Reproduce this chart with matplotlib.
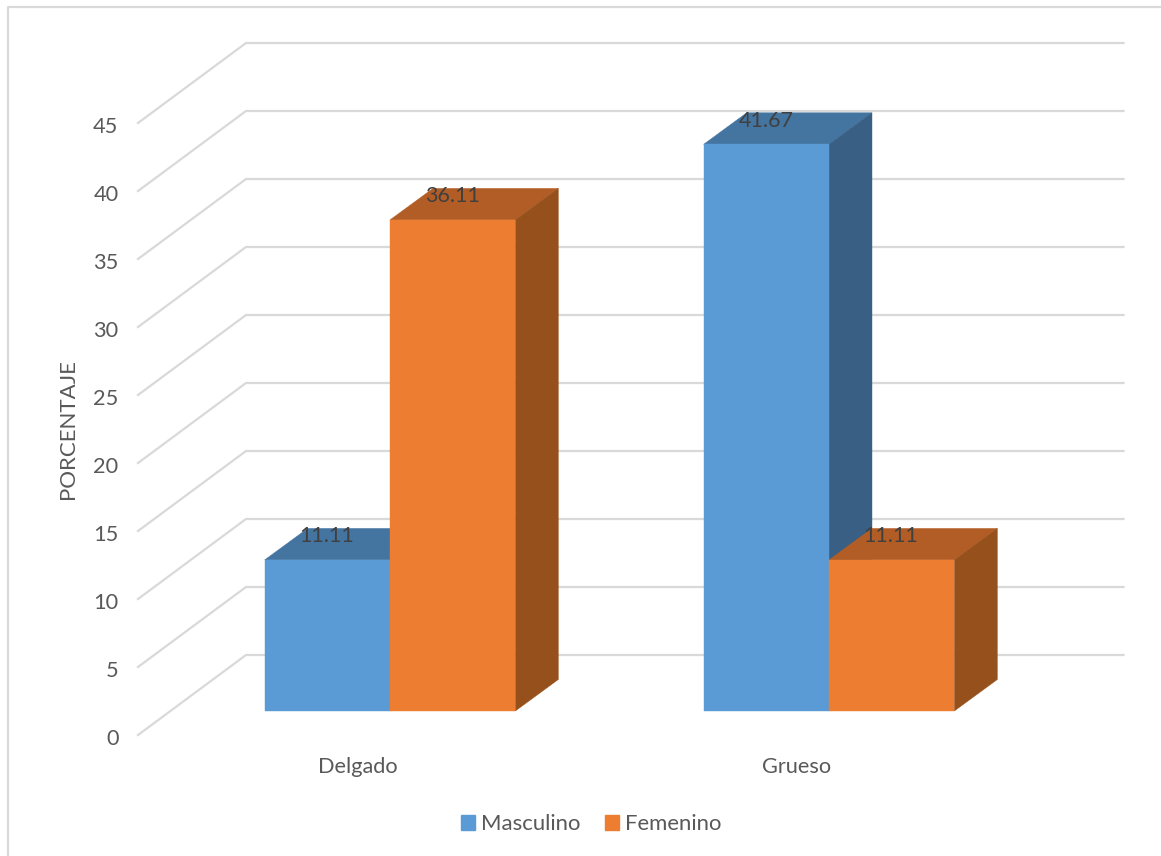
import matplotlib
matplotlib.use("Agg")
import matplotlib.pyplot as plt
from matplotlib.patches import Polygon, Patch
from matplotlib.transforms import Affine2D, IdentityTransform
from matplotlib.lines import Line2D

categories = ["Delgado", "Grueso"]
series_names = ["Masculino", "Femenino"]
masculino = [11.11, 41.67]
femenino = [36.11, 11.11]
y_ticks = [0, 5, 10, 15, 20, 25, 30, 35, 40, 45]

W, H = 1161, 856
plt.rcParams['font.family'] = ['Lato', 'DejaVu Sans']
TXT = '#595959'
GRID = '#d9d9d9'
fig = plt.figure(figsize=(W / 100, H / 100), dpi=100)
ax = fig.add_axes([138 / W, (H - 735) / H, 878 / W, 612 / H])
ax.set_xlim(-0.5, 1.5)
ax.set_ylim(0, 45)
ax.patch.set_alpha(0)
for s in ax.spines.values():
    s.set_visible(False)
ax.set_xticks(range(len(categories)), categories)
ax.set_yticks(y_ticks)
ax.tick_params(axis='both', length=0, labelsize=15.7, labelcolor=TXT)
ax.tick_params(axis='y', pad=14)
ax.tick_params(axis='x', pad=16)
for lab in ax.get_yticklabels():
    lab.set_transform(lab.get_transform() + Affine2D().translate(0, -2))
ax.set_ylabel("PORCENTAJE", fontsize=16, color=TXT, labelpad=11)

# depth offsets, display pixels
wall = ax.transData + Affine2D().translate(108, 80)
front = ax.transData + Affine2D().translate(32.5, 24)
back = ax.transData + Affine2D().translate(75.5, 55.5)

for v in y_ticks:
    p0 = ax.transData.transform((-0.5, v))
    p1 = wall.transform((-0.5, v))
    p2 = wall.transform((1.5, v))
    p2[0] = 1123.5
    fig.add_artist(Line2D([p0[0], p1[0], p2[0]], [p0[1], p1[1], p2[1]], transform=IdentityTransform(),
                          color=GRID, lw=1.6, solid_joinstyle='miter', zorder=1))


def bar3d(x0, x1, v, face, top, side, z):
    a = lambda t, x, y: tuple(t.transform((x, y)))
    polys = [
        ([a(front, x0, v), a(front, x1, v), a(back, x1, v), a(back, x0, v)], top),
        ([a(front, x1, 0), a(back, x1, 0), a(back, x1, v), a(front, x1, v)], side),
        ([a(front, x0, 0), a(front, x1, 0), a(front, x1, v), a(front, x0, v)], face),
    ]
    for pts, c in polys:
        fig.add_artist(Polygon(pts, closed=True, transform=IdentityTransform(), facecolor=c, edgecolor=c,
                               lw=0.3, zorder=z))


bw = 0.2855
colors = {"Masculino": ('#5b9bd5', '#4474a0', '#395f84'), "Femenino": ('#ed7d31', '#b25d25', '#96501b')}
z = 2
for i in range(len(categories)):
    bar3d(i - bw, i, masculino[i], *colors["Masculino"], z)
    bar3d(i, i + bw, femenino[i], *colors["Femenino"], z + 0.1)
    z += 1

# data labels
offs = [(-bw / 2, masculino), (bw / 2, femenino)]
for dx, vals in offs:
    for i, v in enumerate(vals):
        p = front.transform((i + dx, v))
        fig.text((p[0] - 0.5) / W, (p[1] + 23.5) / H, f"{v:.2f}", fontsize=15.5, color='#404040',
                 ha='center', va='center', zorder=20)

fig.legend(handles=[Patch(color='#5b9bd5', label=series_names[0]), Patch(color='#ed7d31', label=series_names[1])],
           loc='center', bbox_to_anchor=(591 / W, (H - 824) / H), ncol=2, frameon=False, fontsize=15.9,
           labelcolor=TXT, handlelength=0.64, handleheight=0.64, handletextpad=0.27, columnspacing=1.1)

# chart frame
fig.add_artist(Line2D([7.5, 7.5, W], [0, H - 6.5, H - 6.5], transform=IdentityTransform(), color=GRID, lw=1.6))
fig.savefig("out.png", dpi=100)
